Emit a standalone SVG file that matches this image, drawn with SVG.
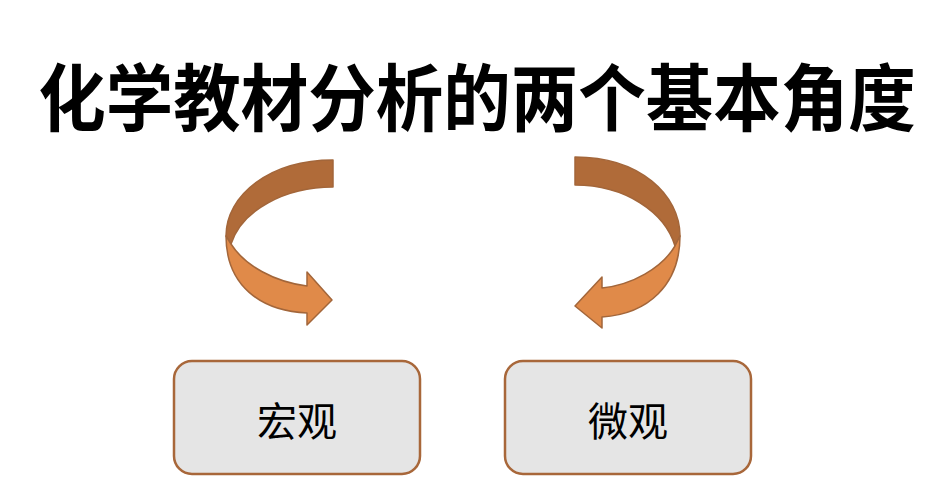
<svg xmlns="http://www.w3.org/2000/svg" width="942" height="491" viewBox="0 0 942 491">
<style>
.title{font-family:"Noto Sans CJK SC","Noto Sans CJK JP",sans-serif;font-weight:bold;font-size:73px;fill:#000}
.lbl{font-family:"Noto Sans CJK SC","Noto Sans CJK JP",sans-serif;font-size:40px;fill:#000}
.box{fill:#e5e5e5;stroke:#a8673a;stroke-width:2.5}
.back{fill:#b06b39;stroke:#a3663a;stroke-width:1.5;stroke-linejoin:round}
.front{fill:#e08a49;stroke:#a3663a;stroke-width:1.5;stroke-linejoin:round}
</style>
<rect width="942" height="491" fill="#fff"/>
<g id="title"><text class="title" transform="translate(477,125) scale(0.925,1)" x="0" y="0" text-anchor="middle">化学教材分析的两个基本角度</text></g>
<g id="connectors">
<g id="arrow-left">
<path class="back" d="M333,160 C270,160 226,195 226,236 L231,244 C242,210 285,187 333,187 Z"/>
<path class="front" d="M231,244 C245,266 275,282 307,286 L307,272 L332,300 L307,325 L307,313 C260,311 226,285 226,236 Z"/>
</g>
<g id="arrow-right">
<path class="back" d="M575,157 C640,157 680,195 680,236 L675,246 C665,212 625,185 575,185 Z"/>
<path class="front" d="M675,246 C662,268 632,285 602,288 L602,277 L575,306 L602,328 L602,317 C648,314 680,285 680,236 Z"/>
</g>
</g>
<g id="node-macro">
<rect class="box" x="174" y="361" width="246" height="113" rx="18"/>
<text class="lbl" x="297" y="436" text-anchor="middle">宏观</text>
</g>
<g id="node-micro">
<rect class="box" x="505" y="361" width="246" height="113" rx="18"/>
<text class="lbl" x="628" y="436" text-anchor="middle">微观</text>
</g>
</svg>
